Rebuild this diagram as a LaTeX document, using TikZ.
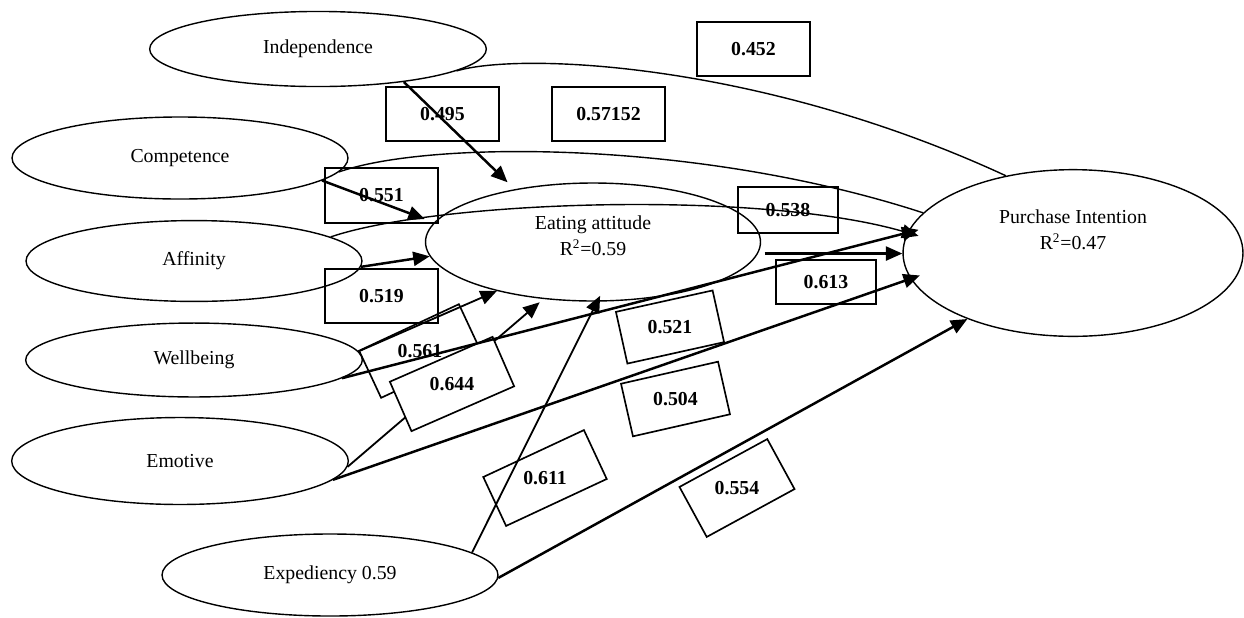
\documentclass[tikz,border=0pt]{standalone}
\usepackage{fontspec}
\setmainfont{Liberation Serif}
\usepackage{graphicx}
\usetikzlibrary{shapes.geometric,arrows.meta}
\tikzset{
 ell/.style={ellipse, draw, line width=0.85pt, inner sep=0pt, font=\fontsize{12}{15.5}\selectfont, align=center},
 txt/.style={inner sep=0pt, font=\fontsize{12}{15.5}\selectfont, align=center},
 valbox/.style={draw, line width=1pt, inner sep=0pt, minimum width=68.5pt, minimum height=32.7pt, font=\bfseries\fontsize{12}{14}\selectfont},
 tip/.style={-{Triangle[length=10pt,width=8.5pt]}},
 conn/.style={line width=1.5pt, tip},
 thinconn/.style={line width=1.1pt, tip},
 curve/.style={line width=0.85pt},
}
\begin{document}
\begin{tikzpicture}[x=0.606pt, y=-0.606pt]
\useasboundingbox (0,0) rectangle (1244,617);
% ellipses
\node[ell, minimum width=204pt, minimum height=45.5pt] (indep) at (318,49) {Independence};
\node[ell, minimum width=203.6pt, minimum height=49.7pt] (comp) at (180,158) {Competence};
\node[ell, minimum width=203.6pt, minimum height=49pt] (aff) at (194,261) {Affinity};
\node[ell, minimum width=204pt, minimum height=44.8pt] (well) at (194,360) {Wellbeing};
\node[ell, minimum width=204pt, minimum height=52.7pt] (emo) at (180,461) {Emotive};
\node[ell, minimum width=203.6pt, minimum height=49.7pt] (exp) at (330,575) {Expediency 0.59};
\node[ell, minimum width=203pt, minimum height=71.5pt] (ea) at (593,242) {};
\node[txt] (eat) at (593,236) {Eating attitude\\R\textsuperscript{2}=0.59};
\node[ell, minimum width=206pt, minimum height=101pt] (pi) at (1073,253) {};
\node[txt] (pit) at (1073,230) {Purchase Intention\\R\textsuperscript{2}=0.47};
% value boxes
\node[valbox] (v452) at (753.5,49) {0.452};
\node[valbox] (v495) at (442.5,114) {0.495};
\node[valbox] (v57152) at (608.5,114) {0.57152};
\node[valbox, minimum height=33.3pt] (v551) at (381.5,195.5) {0.551};
\node[valbox] (v519) at (381.5,296) {0.519};
\node[valbox, minimum width=60.6pt, minimum height=27.9pt] (v538) at (788,210) {0.538};
\node[valbox, minimum width=60.6pt, minimum height=26.7pt] (v613) at (826,282) {0.613};
\node[valbox, minimum width=66.7pt, minimum height=31.5pt, rotate=25] (v561) at (420,351) {\rotatebox{-25}{0.561}};
\node[valbox, minimum width=60pt, minimum height=32.1pt, rotate=12.5] (v521) at (670,327) {\rotatebox{-12.5}{0.521}};
\node[valbox, minimum width=60.3pt, minimum height=32.7pt, rotate=12.8] (v504) at (675.5,399) {\rotatebox{-12.8}{0.504}};
\node[valbox, minimum width=67.3pt, minimum height=32.7pt, rotate=25] (v611) at (545,478) {\rotatebox{-25}{0.611}};
\node[valbox, minimum width=60.6pt, minimum height=34.5pt, rotate=28.6] (v554) at (737,488) {\rotatebox{-28.6}{0.554}};
% curved paths
\draw[curve] (indep.-9) .. controls (520,52) and (760,62) .. (pi.131);
\draw[curve] (comp.-5) .. controls (430,140) and (700,140) .. (pi.165);
\draw[curve, tip, shorten >=-7pt] (aff.10) .. controls (440,200) and (760,190) .. (pi.173);
% straight paths to eating attitude
\draw[conn, shorten >=6pt] (indep.-21) -- (ea.146);
\draw[conn, shorten >=6pt] (comp.-9) -- (ea.173);
\draw[conn] (aff.-2) -- (ea.185);
\draw[thinconn] (well.3) -- (ea.207);
\draw[thinconn, shorten >=3pt] (emo.-2) -- (ea.229);
\draw[thinconn, shorten >=-4pt] (exp.9) -- (ea.-86);
% paths to purchase intention
\draw[conn, shorten <=4pt] (ea.-4) -- (ea.-4 -| pi.west);
\draw[conn, shorten >=-6pt] (emo.-7) -- (pi.189);
\draw[conn] (exp.-1) -- (pi.212);
\node[valbox, fill=white, minimum width=67.9pt, minimum height=32.7pt, rotate=23.6] (v644) at (452,384) {\rotatebox{-23.6}{0.644}};
\draw[conn, shorten >=-7pt] (well.-7) -- (pi.173);
\end{tikzpicture}
\end{document}
